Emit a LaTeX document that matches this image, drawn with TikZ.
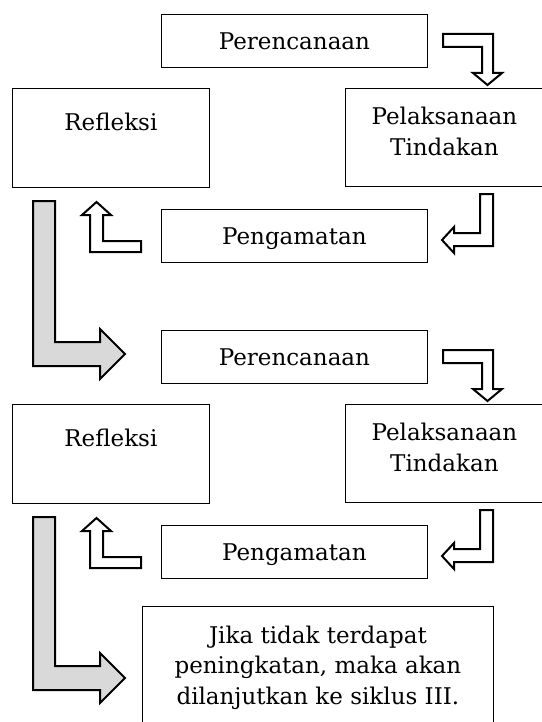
\documentclass[tikz,border=0pt]{standalone}
\usepackage{fontspec}
\setmainfont{DejaVu Serif}
\begin{document}
\begin{tikzpicture}[x=1pt,y=-1pt,
  box/.style={draw, line width=0.8pt, inner sep=0pt, anchor=north west, align=center,
              text height=16.5pt, text depth=0pt, font=\fontsize{23}{30.5}\selectfont},
  blk/.style={draw, line width=2pt, fill=white, line join=miter},
  gblk/.style={blk, fill=gray!30}]
\useasboundingbox (0,0) rectangle (541,722);

% ---- cycle I ----
\node[box, minimum width=266pt, minimum height=53pt] (per1) at (161,14) {Perencanaan};
\node[box, minimum width=198pt, minimum height=98pt, text height=47pt, text depth=11pt] (pel1) at (345,88) {Pelaksanaan\\Tindakan};
\node[box, minimum width=197pt, minimum height=99pt, text depth=31pt] (ref1) at (12,88) {Refleksi};
\node[box, minimum width=266pt, minimum height=53pt] (pen1) at (161,209) {Pengamatan};

% ---- cycle II ----
\node[box, minimum width=266pt, minimum height=53pt] (per2) at (161,330) {Perencanaan};
\node[box, minimum width=198pt, minimum height=98pt, text height=47pt, text depth=11pt] (pel2) at (345,404) {Pelaksanaan\\Tindakan};
\node[box, minimum width=197pt, minimum height=99pt, text depth=31pt] (ref2) at (12,404) {Refleksi};
\node[box, minimum width=266pt, minimum height=53pt] (pen2) at (161,525) {Pengamatan};

\node[box, inner ysep=20.5pt, minimum width=351pt, text height=77.5pt, text depth=80pt] (fin) at (142,606)
  {Jika tidak terdapat\\peningkatan, maka akan\\dilanjutkan ke siklus III.};

% ---- block arrows, cycle I and II ----
\foreach \dy in {0,316}{
  \begin{scope}[yshift=-\dy pt]
    % Perencanaan -> Pelaksanaan
    \draw[blk] (443,34) -- (493,34) -- (493,73) -- (502,73) -- (487.5,85) -- (473,73)
               -- (482,73) -- (482,47) -- (443,47) -- cycle;
    % Pelaksanaan -> Pengamatan
    \draw[blk] (480,194) -- (493,194) -- (493,246) -- (454,246) -- (454,253) -- (442,240)
               -- (454,227) -- (454,233) -- (480,233) -- cycle;
    % Pengamatan -> Refleksi
    \draw[blk] (141,241) -- (141,252) -- (90,252) -- (90,215) -- (82,215) -- (96.5,202)
               -- (111,215) -- (103,215) -- (103,241) -- cycle;
  \end{scope}
}

% Refleksi I -> Perencanaan II
\draw[gblk] (33,201) -- (55,201) -- (55,342) -- (100,342) -- (100,329) -- (125,354)
            -- (100,379) -- (100,366) -- (33,366) -- cycle;
% Refleksi II -> conclusion
\draw[gblk] (33,517) -- (55,517) -- (55,666) -- (100,666) -- (100,653) -- (125,678)
            -- (100,703) -- (100,690) -- (33,690) -- cycle;
\end{tikzpicture}
\end{document}
